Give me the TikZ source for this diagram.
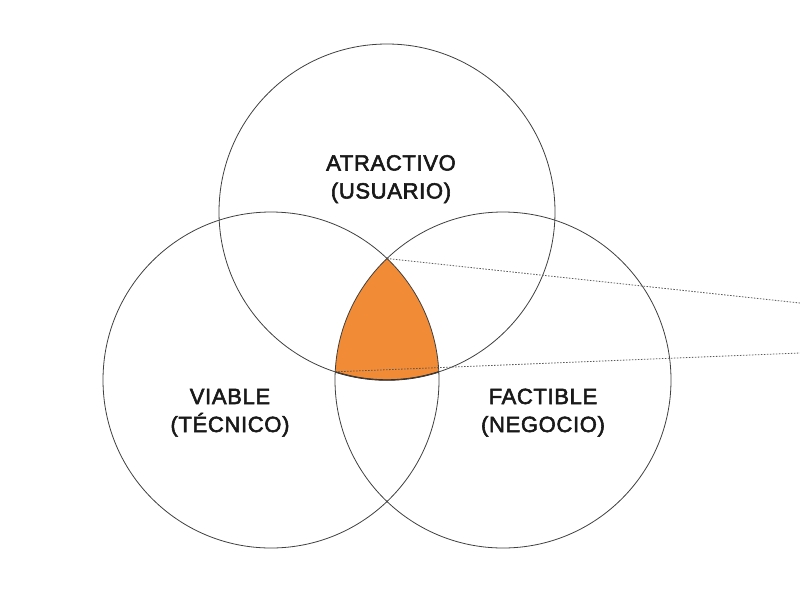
\documentclass[tikz,border=0pt]{standalone}
\usepackage{fontspec}
\setmainfont{Liberation Sans}
\newfontfamily\lblfont{Liberation Sans}[FakeBold=2.5,LetterSpace=3]
\begin{document}
\begin{tikzpicture}[x=1pt,y=-1pt,
  venn/.style={circle,draw=black!75,line width=0.8pt,minimum size=336pt,inner sep=0pt},
  lbl/.style={align=center,anchor=base,inner sep=0pt,font=\lblfont\fontsize{22}{28}\selectfont,text=black!90},
  guide/.style={draw=black!65,dash pattern=on 1.5pt off 1.5pt,line width=0.8pt}]
\useasboundingbox[fill=white] (0,0) rectangle (800,600);
% orange intersection
\begin{scope}
  \clip (387,212) circle[radius=168pt];
  \clip (271,380) circle[radius=168pt];
  \fill[fill={rgb,255:red,242;green,139;blue,54}] (503,380) circle[radius=168pt];
\end{scope}
\begin{scope}
  \clip (271,380) circle[radius=168pt];
  \clip (503,380) circle[radius=168pt];
  \draw[black!85,line width=1.4pt] (387,212) circle[radius=168pt];
\end{scope}
\node[venn] (top) at (387,212) {};
\node[venn] (left) at (271,380) {};
\node[venn] (right) at (503,380) {};
\coordinate (tv) at (387,258.5);
\coordinate (lv) at (335.2,371.8);
\coordinate (e1) at (800,303);
\coordinate (e2) at (800,353);
\draw[guide] (tv) -- (e1);
\draw[guide] (lv) -- (e2);
\node[lbl] (ta) at (391,198.5) {ATRACTIVO\\(USUARIO)};
\node[lbl] (tl) at (230,432) {VIABLE\\(TÉCNICO)};
\node[lbl] (tr) at (543,432) {FACTIBLE\\(NEGOCIO)};
\end{tikzpicture}
\end{document}
